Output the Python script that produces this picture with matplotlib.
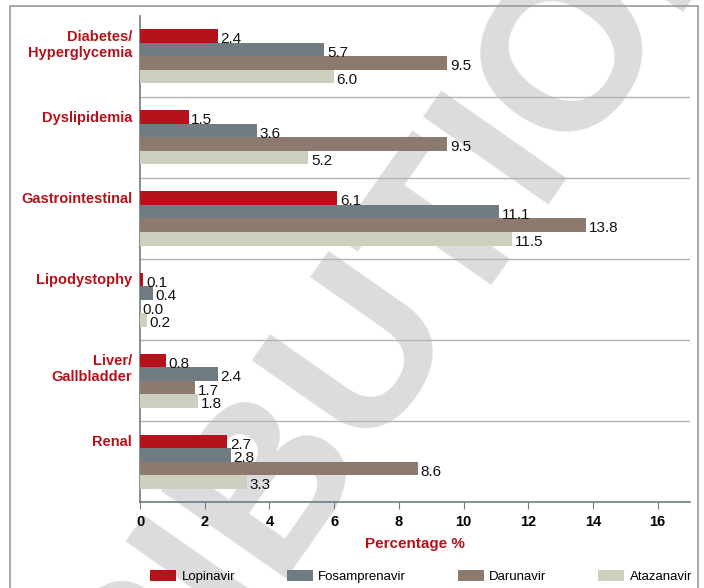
import matplotlib
matplotlib.use("Agg")
import matplotlib.pyplot as plt
from matplotlib.patches import Rectangle
import numpy as np

plt.rcParams["font.family"] = ["Liberation Sans", "DejaVu Sans"]

# data
categories = ["Diabetes/\nHyperglycemia", "Dyslipidemia", "Gastrointestinal",
              "Lipodystophy", "Liver/\nGallbladder", "Renal"]
drugs = ["Lopinavir", "Fosamprenavir", "Darunavir", "Atazanavir"]
lopinavir = [2.4, 1.5, 6.1, 0.1, 0.8, 2.7]
fosamprenavir = [5.7, 3.6, 11.1, 0.4, 2.4, 2.8]
darunavir = [9.5, 9.5, 13.8, 0.0, 1.7, 8.6]
atazanavir = [6.0, 5.2, 11.5, 0.2, 1.8, 3.3]
xticks = [0, 2, 4, 6, 8, 10, 12, 14, 16]

series = [lopinavir, fosamprenavir, darunavir, atazanavir]
colors = ["#b5121b", "#717c82", "#8c7a6e", "#cdd0be"]
red = "#b5121b"

fig = plt.figure(figsize=(7.04, 5.88), dpi=100)
ax = fig.add_axes([0.199, 0.146, 0.781, 0.827])
ax.set_zorder(1)
ax.patch.set_alpha(0)

# frame round the whole figure
fig.patches.append(Rectangle((0.014, -0.05), 0.977, 1.04, transform=fig.transFigure,
                             fill=False, edgecolor="#9a9a9a", linewidth=1.2, zorder=0))

# watermark, behind the axes
fig.text(0.37, 0.16, "DISTRIBUTION", rotation=55, rotation_mode="anchor",
         ha="center", va="center", fontsize=160, fontweight="bold",
         color="#dcdcdc", zorder=-1)

n = len(categories)
bar_h = 1 / 6
centers = np.arange(n)
for i, (vals, col, name) in enumerate(zip(series, colors, drugs)):
    ys = centers - 1.5 * bar_h + i * bar_h
    ax.barh(ys, vals, height=bar_h, color=col, label=name, zorder=3)
    for y, v in zip(ys, vals):
        ax.text(v + 0.08, y + 0.04, f"{v:.1f}", va="center", ha="left",
                fontsize=11, color="#111111", zorder=4)

ax.set_ylim(n - 0.5, -0.5)
ax.set_xlim(0, 17)

# separators
for k in range(n - 1):
    ax.axhline(k + 0.5, color="#aab6bc", linewidth=1.0, zorder=2)

# category labels
for k, cat in enumerate(categories):
    ax.text(-0.25, k - 2 * bar_h + 0.01, cat, ha="right", va="top",
            fontsize=10.5, fontweight="bold", color=red, linespacing=1.15)

ax.set_yticks([])
ax.set_xticks(xticks)
ax.set_xticklabels([str(t) for t in xticks], fontweight="bold", fontsize=10.5)
ax.tick_params(axis="x", direction="out", length=5, color="#6e7b82", pad=4)
for s in ["top", "right"]:
    ax.spines[s].set_visible(False)
for s in ["left", "bottom"]:
    ax.spines[s].set_color("#6e7b82")
    ax.spines[s].set_linewidth(1.2)

ax.set_xlabel("Percentage %", fontsize=11, fontweight="bold", color=red, labelpad=6)

fig.legend(loc="lower center", bbox_to_anchor=(0.598, -0.012), ncol=4, frameon=False,
           fontsize=9.5, handlelength=2.0, handleheight=0.9, columnspacing=3.9,
           handletextpad=0.4)

fig.savefig("out.png", dpi=100)
